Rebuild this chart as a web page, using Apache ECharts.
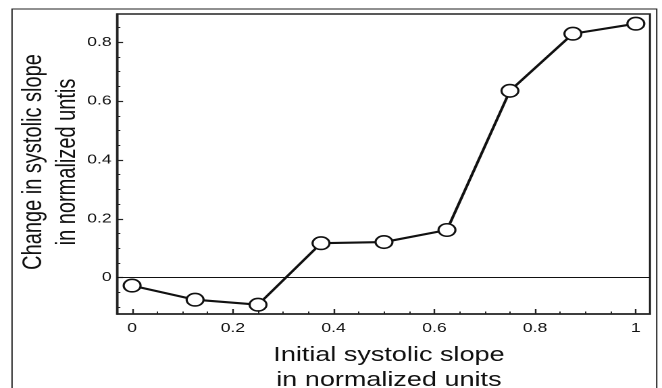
<!DOCTYPE html>
<html>
<head>
<meta charset="utf-8">
<script src="https://cdn.jsdelivr.net/npm/echarts@6/dist/echarts.min.js"></script>
<style>
html,body{margin:0;padding:0;background:#fff;overflow:hidden;}
#wrap{width:662px;height:388px;overflow:hidden;}
#chart{width:490px;height:388px;transform:scaleX(1.351);transform-origin:0 0;}
</style>
</head>
<body>
<div id="wrap"><div id="chart"></div></div>
<script>
// Data
const xValues = [0, 0.125, 0.25, 0.375, 0.5, 0.625, 0.75, 0.875, 1];
const yValues = [-0.027, -0.075, -0.092, 0.117, 0.121, 0.162, 0.635, 0.829, 0.863];
const xTickLabels = [0, 0.2, 0.4, 0.6, 0.8, 1];
const yTickLabels = [0, 0.2, 0.4, 0.6, 0.8];
const xMinorTicks = [0.05,0.1,0.15,0.25,0.3,0.35,0.45,0.5,0.55,0.65,0.7,0.75,0.85,0.9,0.95];
const yMinorTicks = [-0.1,-0.05,0.05,0.1,0.15,0.25,0.3,0.35,0.45,0.5,0.55,0.65,0.7,0.75,0.85];
const xTitle = 'Initial systolic slope\nin normalized units';
const yTitle = 'Change in systolic slope\nin normalized untis';

const chart = echarts.init(document.getElementById('chart'), null, {renderer:'canvas', devicePixelRatio:2});
const font = 'Liberation Sans, Arial, Helvetica, sans-serif';
const ink = '#111';
const xMin = -0.03, xMax = 1.028, yMin = -0.1235, yMax = 0.896;

const option = {
  animation: false,
  backgroundColor: '#fff',
  grid: {left: 86.6, right: 8.9, top: 14, bottom: 74, containLabel: false, outerBoundsMode: 'none',
    show: true, borderColor: '#222', borderWidth: 1.5, backgroundColor: 'transparent'},
  xAxis: [{
    type: 'value', min: xMin, max: xMax, position: 'bottom',
    axisLine: {show: true, onZero: false, lineStyle: {color: '#222', width: 1.5}},
    axisTick: {show: true, inside: true, length: 5, customValues: xTickLabels, lineStyle: {color: '#222', width: 1.2}},
    axisLabel: {show: true, customValues: xTickLabels, margin: 8, fontFamily: font, fontSize: 13, color: ink,
      formatter: v => String(v)},
    splitLine: {show: false},
    name: xTitle, nameLocation: 'middle', nameGap: 29, nameMoveOverlap: false,
    nameTextStyle: {fontFamily: font, fontSize: 20, color: ink, lineHeight: 25, padding: [0,0,0,8]}
  }, {
    type: 'value', min: xMin, max: xMax, position: 'bottom',
    axisLine: {show: false, onZero: false},
    axisTick: {show: true, inside: true, length: 2.5, customValues: xMinorTicks, lineStyle: {color: '#222', width: 1}},
    axisLabel: {show: false}, splitLine: {show: false}
  }],
  yAxis: [{
    type: 'value', min: yMin, max: yMax, position: 'left',
    axisLine: {show: true, onZero: false, lineStyle: {color: '#222', width: 1.5}},
    axisTick: {show: true, inside: true, length: 4.5, customValues: yTickLabels, lineStyle: {color: '#222', width: 1.2}},
    axisLabel: {show: true, customValues: yTickLabels, margin: 4, fontFamily: font, fontSize: 13, color: ink,
      formatter: v => String(v)},
    splitLine: {show: false},
    name: yTitle, nameLocation: 'middle', nameGap: 24, nameMoveOverlap: false,
    nameTextStyle: {fontFamily: font, fontSize: 20, color: ink, lineHeight: 25, padding: [0,0,0,4]}
  }, {
    type: 'value', min: yMin, max: yMax, position: 'left', offset: 0,
    axisLine: {show: false, onZero: false},
    axisTick: {show: true, inside: true, length: 2.5, customValues: yMinorTicks, lineStyle: {color: '#222', width: 1}},
    axisLabel: {show: false}, splitLine: {show: false}
  }],
  graphic: [{
    type: 'rect', silent: true, z: 0,
    shape: {x: 8.9, y: 9, width: 477.2, height: 420},
    style: {fill: 'none', stroke: '#222', lineWidth: 1}
  }],
  series: [{
    type: 'line',
    data: xValues.map((x, i) => [x, yValues[i]]),
    xAxisIndex: 0, yAxisIndex: 0,
    symbol: 'circle', symbolSize: 12.5,
    itemStyle: {color: '#fff', borderColor: '#111', borderWidth: 1.6},
    lineStyle: {color: '#111', width: 2.1},
    z: 5,
    markLine: {
      silent: true, symbol: 'none', animation: false,
      label: {show: false},
      lineStyle: {color: '#111', width: 1, type: 'solid'},
      data: [{yAxis: 0}]
    }
  }]
};
chart.setOption(option);
</script>
</body>
</html>
